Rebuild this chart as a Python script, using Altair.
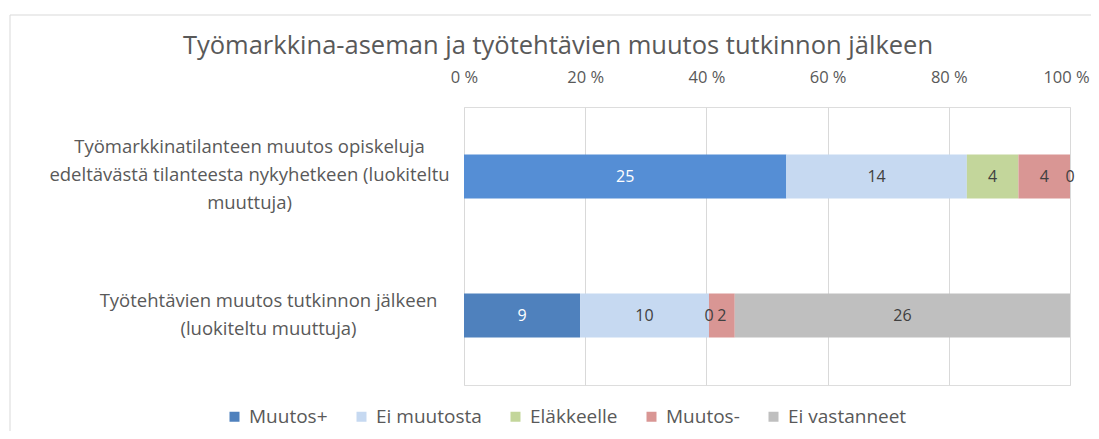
import json
import altair as alt
import pandas as pd

# ---- data ----
categories = [
    "Työmarkkinatilanteen muutos opiskeluja|edeltävästä tilanteesta nykyhetkeen (luokiteltu|muuttuja)",
    "Työtehtävien muutos tutkinnon jälkeen|(luokiteltu muuttuja)",
]
series = ["Muutos+", "Ei muutosta", "Eläkkeelle", "Muutos-", "Ei vastanneet"]
values_top = [25, 14, 4, 4, 0]
values_bottom = [9, 10, 0, 2, 26]
series_colors = ["#4F81BD", "#C6D9F1", "#C3D69B", "#D99694", "#BFBFBF"]
top_first_color = "#558ED5"  # individually formatted point
tick_values = [0, 0.2, 0.4, 0.6, 0.8, 1.0]
title_text = "Työmarkkina-aseman ja työtehtävien muutos tutkinnon jälkeen"

rows = []
for ci, (cat, vals) in enumerate(zip(categories, [values_top, values_bottom])):
    for si, (s, v) in enumerate(zip(series, vals)):
        key = s
        if ci == 0 and si == 0:
            key = "Muutos+ (top)"
        rows.append({"category": cat, "series": s, "order": si, "value": v, "colorKey": key})
df = pd.DataFrame(rows)

color_domain = series + ["Muutos+ (top)"]
color_range = series_colors + [top_first_color]

FONT = "Open Sans"
GREY = "#595959"
is_first = "datum.value == " + json.dumps(categories[0])

base = alt.Chart(df).transform_stack(
    stack="value",
    groupby=["category"],
    sort=[alt.SortField("order", order="ascending")],
    as_=["v0", "v1"],
    offset="normalize",
).transform_calculate(mid="(datum.v0 + datum.v1) / 2")

y_enc = alt.Y(
    "category:N",
    sort=categories,
    scale=alt.Scale(paddingInner=0, paddingOuter=0),
    axis=alt.Axis(
        title=None,
        domain=False,
        ticks=False,
        labelExpr="split(datum.label, '|')",
        labelAlign="center",
        labelBaseline="middle",
        labelPadding={"condition": {"test": is_first, "value": 215}, "value": 196},
        labelOffset={"condition": {"test": is_first, "value": -30}, "value": -15},
        labelFont=FONT,
        labelFontSize=18.5,
        labelColor=GREY,
        labelLineHeight=28,
        labelLimit=0,
    ),
)

bars = base.mark_bar(size=44).encode(
    y=y_enc,
    x=alt.X(
        "v0:Q",
        scale=alt.Scale(domain=[0, 1], nice=False),
        axis=alt.Axis(
            orient="top",
            title=None,
            values=tick_values,
            labelExpr="round(datum.value * 100) + ' %'",
            domain=False,
            ticks=False,
            grid=True,
            gridColor="#D9D9D9",
            labelFont=FONT,
            labelFontSize=16.5,
            labelColor=GREY,
            labelPadding=22,
            labelOffset={"condition": {"test": "datum.value == 1", "value": -4}, "value": 0},
            labelFlush=False,
            labelOverlap=False,
        ),
    ),
    x2="v1:Q",
    color=alt.Color(
        "colorKey:N",
        scale=alt.Scale(domain=color_domain, range=color_range),
        legend=alt.Legend(
            title=None,
            values=series,
            orient="none",
            legendX=-239,
            legendY=300,
            direction="horizontal",
            symbolType="square",
            symbolSize=100,
            symbolStrokeWidth=0,
            labelFont=FONT,
            labelFontSize=19,
            labelColor=GREY,
            columnPadding=24,
            labelOffset=5,
            labelLimit=0,
        ),
    ),
)

labels = base.mark_text(font=FONT, fontSize=16).encode(
    y=alt.Y("category:N", sort=categories),
    x=alt.X("mid:Q"),
    text=alt.Text("value:Q"),
    color=alt.condition(alt.datum.series == "Muutos+", alt.value("white"), alt.value("#404040")),
)

border = alt.Chart(alt.Data(values=[{"a": 1}])).mark_rect(
    fillOpacity=0, stroke="#D9D9D9", strokeWidth=1
).encode(
    x=alt.value(-454), x2=alt.value(1000), y=alt.value(-92), y2=alt.value(1000)
)

chart = alt.layer(border, bars, labels).properties(
    width=606,
    height=278,
    padding={"left": 456, "top": 99, "right": 21, "bottom": 46},
    autosize=alt.AutoSizeParams(type="none"),
    title=alt.TitleParams(
        text=title_text,
        font=FONT,
        fontSize=25.5,
        fontWeight="normal",
        color=GREY,
        anchor="middle",
        dx=-209,
        offset=-45,
    ),
).configure_view(stroke=None).configure(background="white")

chart.save("out.html", embed_options={"renderer": "svg", "actions": False})
